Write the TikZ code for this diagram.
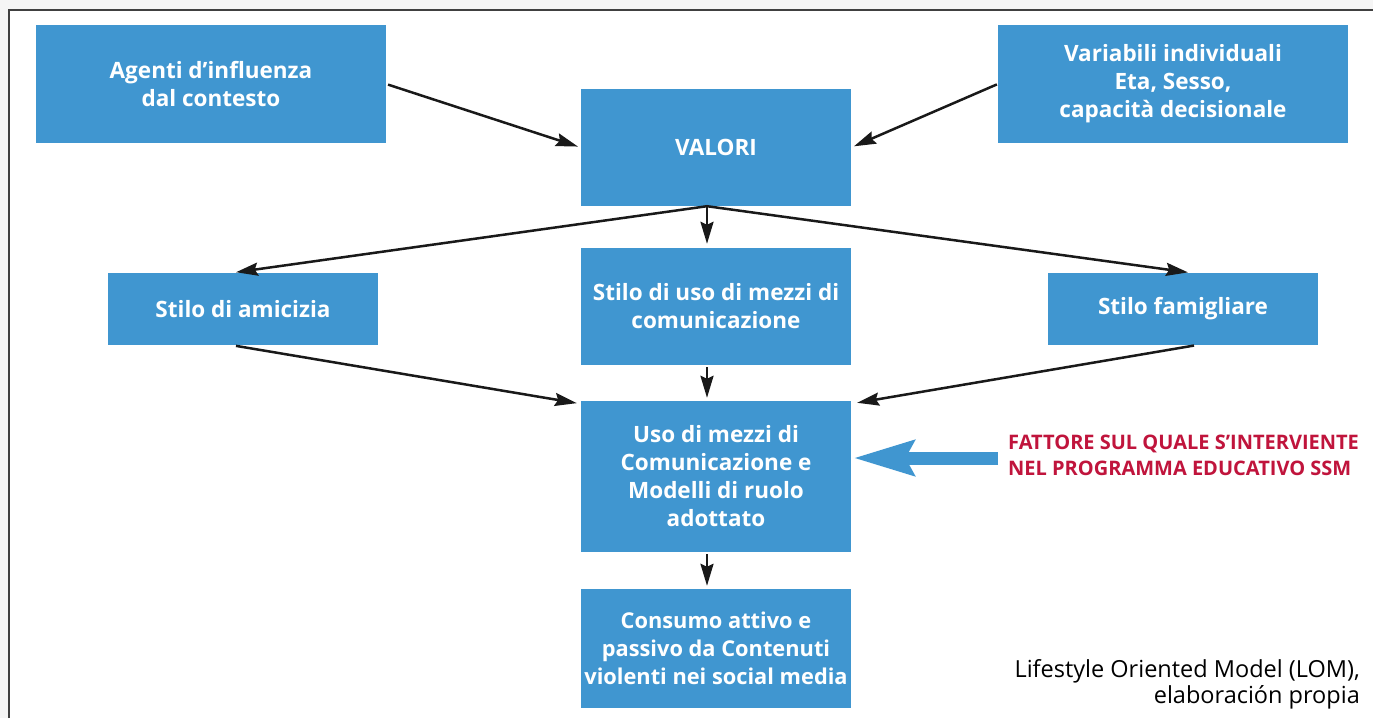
\documentclass[tikz,border=0pt]{standalone}
\usepackage{fontspec}
\setmainfont{Open Sans}
\usetikzlibrary{arrows.meta}
\definecolor{boxblue}{RGB}{64,150,208}
\definecolor{ssmred}{RGB}{192,20,60}
\begin{document}
\begin{tikzpicture}[x=1pt, y=-1pt,
        box/.style={fill=boxblue, text=white, align=center, inner sep=0pt,
            font=\bfseries\fontsize{22.5}{28}\selectfont, minimum width=270pt},
        wide/.style={box, minimum width=350pt, minimum height=118pt},
        arr/.style={line width=2.5pt, draw=black!90, -{Stealth[length=22pt,width=13pt,inset=3pt]}},
        bigarr/.style={line width=13pt, draw=boxblue, -{Stealth[length=60pt,width=34pt,inset=8pt]}}]
    \useasboundingbox (0,0) rectangle (1373,718);
    \fill[gray!8] (0,0) rectangle (1373,718);
    \fill[white] (9,10) rectangle (1373,718);
    \draw[gray!50!black, line width=1.3pt] (9,718) -- (9,10) -- (1373,10);

    \node[wide] (agenti) at (211,84) {Agenti d’influenza\\dal contesto};
    \node[wide] (variabili) at (1173,84) {Variabili individuali\\Eta, Sesso,\\capacità decisionale};
    \node[box, minimum height=117pt] (valori) at (716,147.5) {VALORI};
    \node[box, minimum height=72pt] (amicizia) at (243,309) {Stilo di amicizia};
    \node[box, minimum height=117pt] (stilouso) at (716,306.5) {Stilo di uso di mezzi di\\comunicazione};
    \node[box, minimum height=72pt] (famigliare) at (1183,309) {Stilo famigliare};
    \node[box, minimum height=151pt] (mezzi) at (716,476.5) {Uso di mezzi di\\Comunicazione e\\Modelli di ruolo\\adottato};
    \node[box, minimum height=119pt, font=\bfseries\fontsize{21.8}{28}\selectfont] (consumo) at (716,648.5) {Consumo attivo e\\passivo da Contenuti\\violenti nei social media};
    \node[text=ssmred, font=\bfseries\fontsize{20}{26}\selectfont, align=left, inner sep=0pt,
        anchor=west] (fattore) at (1008,455) {FATTORE SUL QUALE S’INTERVIENTE\\NEL PROGRAMMA EDUCATIVO SSM};
    \node[font=\fontsize{23.5}{26}\selectfont, align=right, inner sep=0pt, anchor=east]
        (fonte) at (1360,684) {Lifestyle Oriented Model (LOM),\\elaboración propia};

    \coordinate (hub) at ([xshift=-9pt]valori.south);
    \draw[arr, shorten <=2pt, shorten >=3pt] (agenti.east) -- (valori.west);
    \draw[arr, shorten <=1pt, shorten >=3pt] (variabili.west) -- (valori.east);
    \draw[arr, shorten >=4pt] (hub) -- ([xshift=-11pt]amicizia.north);
    \draw[arr, shorten >=3pt] (hub) -- ([xshift=8pt]famigliare.north);
    \draw[arr, shorten >=4pt] (hub) -- ([xshift=-9pt]stilouso.north);
    \draw[arr, shorten <=4pt, shorten >=4pt] ([xshift=-11pt]amicizia.south) -- ([yshift=-3pt]mezzi.north west);
    \draw[arr, shorten <=2pt, shorten >=6pt] ([xshift=13pt]famigliare.south) -- ([yshift=-3pt]mezzi.north east);
    \draw[arr, shorten <=2pt, shorten >=3pt] ([xshift=-9pt]stilouso.south) -- ([xshift=-9pt]mezzi.north);
    \draw[arr, shorten <=2pt, shorten >=3pt] ([xshift=-9pt]mezzi.south) -- ([xshift=-9pt]consumo.north);
    \draw[bigarr, shorten >=2pt] ([xshift=-10pt,yshift=-3pt]fattore.west) -- ([yshift=-3pt]fattore.west -| mezzi.east);
\end{tikzpicture}
\end{document}
